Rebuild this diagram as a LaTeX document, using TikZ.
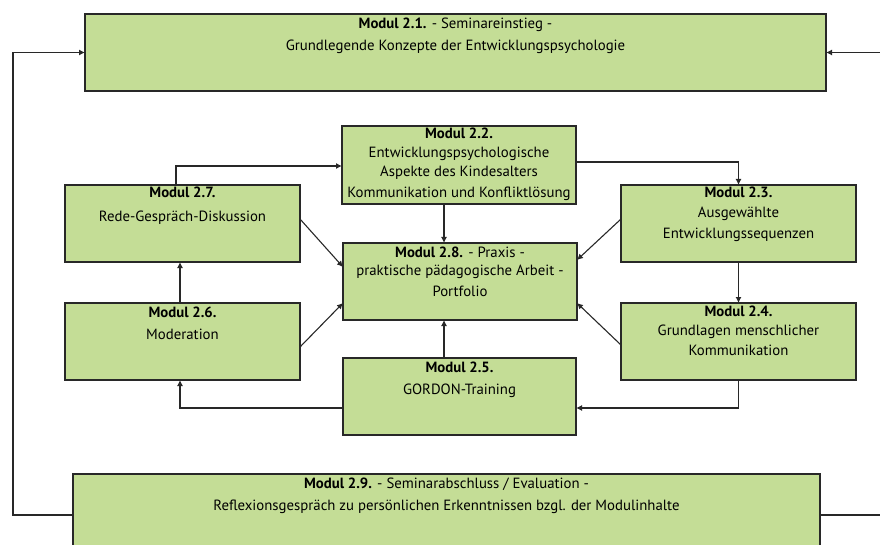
\documentclass[tikz,border=0pt]{standalone}
\usepackage{fontspec}
\setmainfont{PT Sans}
\usetikzlibrary{arrows.meta,calc}
\definecolor{boxgreen}{RGB}{196,221,150}
\definecolor{edge}{RGB}{40,40,40}
\begin{document}
\begin{tikzpicture}[x=1pt,y=-1pt,
  box/.style={draw=edge, fill=boxgreen, line width=1.4pt, inner sep=0pt, outer sep=0pt, anchor=north west},
  txt/.style={anchor=north, inner sep=0pt, align=center, font=\fontsize{14.8}{19}\selectfont},
  arr/.style={draw=edge, line width=1.1pt, -{Latex[length=6pt,width=6pt]}},
  ln/.style={draw=edge, line width=1.1pt}]
\useasboundingbox (0,0) rectangle (880,545);
\clip (0,0) rectangle (880,545);
% boxes
\node[box, minimum width=741pt, minimum height=77pt] (m21) at (85,14) {};
\node[box, minimum width=747pt, minimum height=85pt] (m29) at (73,474) {};
\node[box, minimum width=234pt, minimum height=78pt] (m22) at (342,126) {};
\node[box, minimum width=235pt, minimum height=77pt] (m27) at (65,185) {};
\node[box, minimum width=235pt, minimum height=77pt] (m23) at (621,185) {};
\node[box, minimum width=234pt, minimum height=77pt] (m28) at (343,243) {};
\node[box, minimum width=235pt, minimum height=77pt] (m26) at (65,303) {};
\node[box, minimum width=235pt, minimum height=77pt] (m24) at (621,303) {};
\node[box, minimum width=233pt, minimum height=77pt] (m25) at (343,358) {};
% texts
\node[txt] (t21) at ($(m21.north)+(0,3.5)$) {\textbf{Modul 2.1.} - Seminareinstieg -\\[3pt] Grundlegende Konzepte der Entwicklungspsychologie};
\node[txt] (t29) at ($(m29.north)+(0,3.5)$) {\textbf{Modul 2.9.} - Seminarabschluss / Evaluation -\\[3pt] Reflexionsgespräch zu persönlichen Erkenntnissen bzgl. der Modulinhalte};
\node[txt] (t22) at ($(m22.north)+(0,2)$) {\textbf{Modul 2.2.}\\ Entwicklungspsychologische\\ Aspekte des Kindesalters\\[2pt] Kommunikation und Konfliktlösung};
\node[txt] (t27) at ($(m27.north)+(0,1.5)$) {\textbf{Modul 2.7.}\\[5pt] Rede-Gespräch-Diskussion};
\node[txt] (t23) at ($(m23.north)+(0,1.5)$) {\textbf{Modul 2.3.}\\[1pt] Ausgewählte\\[2pt] Entwicklungssequenzen};
\node[txt] (t28) at ($(m28.north)+(0,4)$) {\textbf{Modul 2.8.} - Praxis -\\[-1pt] praktische pädagogische Arbeit -\\[2pt] Portfolio};
\node[txt] (t26) at ($(m26.north)+(0,4)$) {\textbf{Modul 2.6.}\\[3pt] Moderation};
\node[txt] (t24) at ($(m24.north)+(0,2.5)$) {\textbf{Modul 2.4.}\\ Grundlagen menschlicher\\[1pt] Kommunikation};
\node[txt] (t25) at ($(m25.north)+(0,3.5)$) {\textbf{Modul 2.5.}\\[3pt] GORDON-Training};
% side coordinates
\coordinate (lc) at (13,0);
\coordinate (rc) at (881,0);
\coordinate (p1) at ($(m29.north west)+(0,41)$);
\coordinate (p2) at ($(m29.north east)+(0,41)$);
% connectors
\draw[arr] ($(m27.north west)+(111,0)$) |- ($(m22.north west)+(0,40)$);
\draw[arr] ($(m22.north east)+(0,36)$) -| (m23.north);
\draw[arr] ($(m22.south)+(-15,0)$) -- ($(m28.north)+(-16,0)$);
\draw[arr] ($(m27.north east)+(0,34)$) -- ($(m28.north west)+(0,24)$);
\draw[arr] ($(m23.north west)+(0,34)$) -- ($(m28.north east)+(0,17)$);
\draw[arr] ($(m26.north east)+(0,44)$) -- ($(m28.north west)+(0,60)$);
\draw[arr] ($(m24.north west)+(0,42)$) -- ($(m28.north east)+(0,60)$);
\draw[arr] ($(m26.north west)+(115,0)$) -- ($(m27.south west)+(115,0)$);
\draw[arr] (m23.south) -- (m24.north);
\draw[arr] (m24.south) |- ($(m25.north east)+(0,50)$);
\draw[arr] ($(m25.north west)+(0,50)$) -| ($(m26.south west)+(115,0)$);
\draw[arr] ($(m25.north)+(-15.5,0)$) -- ($(m28.south)+(-16,0)$);
% outer loop
\draw[arr] (p1) -- (p1 -| lc) |- (m21.west);
\draw[ln] (p2) -- (p2 -| rc);
\draw[arr] (m21.east -| rc) -- (m21.east);
\end{tikzpicture}
\end{document}
